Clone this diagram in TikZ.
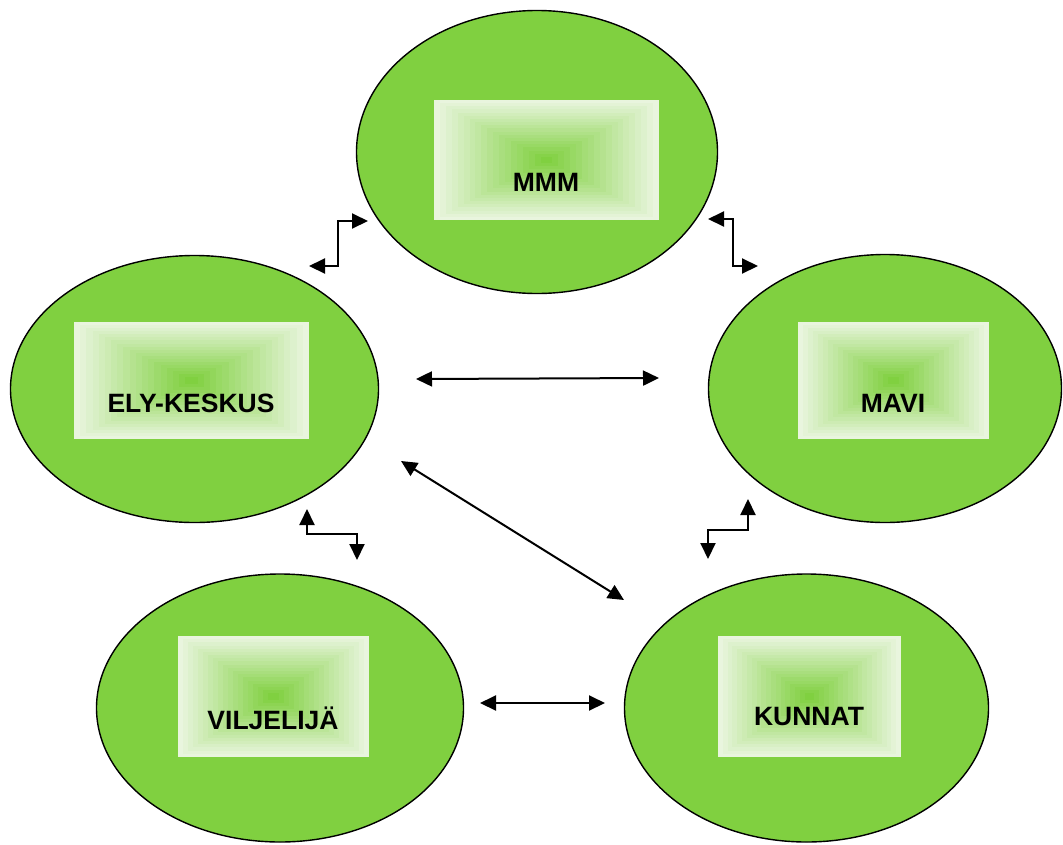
\documentclass[tikz,border=0pt]{standalone}
\usepackage{fontspec}
\setmainfont{Liberation Sans}
\usetikzlibrary{shapes.geometric,arrows.meta}
\definecolor{leaf}{RGB}{128,208,64}
\definecolor{pale}{RGB}{233,245,222}
\tikzset{
  blob/.style={ellipse, draw=black, line width=1.4pt, fill=leaf, inner sep=0pt},
  link/.style={line width=2pt, {Triangle[length=16pt,width=15pt]}-{Triangle[length=16pt,width=15pt]}},
  lbl/.style={font=\bfseries\fontsize{26.5}{31}\selectfont, inner sep=0pt, text=black},
  band/.style={draw=none, inner sep=0pt, outer sep=0pt}
}
\newcommand\gradbox[5]{%
  \node[band, fill=pale, minimum width=#4pt, minimum height=#5pt] (#1) at (#2,#3) {};
  \foreach \i in {1,...,18}{%
    \pgfmathsetmacro\f{1-\i/19}%
    \pgfmathtruncatemacro\p{\i/18*100}%
    \node[band, fill=leaf!\p!pale, minimum width={\f*#4pt}, minimum height={\f*#5pt}] at (#2,#3) {};
  }%
}
\begin{document}
\begin{tikzpicture}[x=1pt,y=-1pt]
\useasboundingbox (0,0) rectangle (1063,844);
% ellipses
\node[blob, minimum width=361pt, minimum height=283pt] (mmmE) at (537,152) {};
\node[blob, minimum width=368pt, minimum height=267pt] (elyE) at (194.5,389) {};
\node[blob, minimum width=353pt, minimum height=268pt] (maviE) at (885,388.5) {};
\node[blob, minimum width=367pt, minimum height=268pt] (viljE) at (280,708) {};
\node[blob, minimum width=364pt, minimum height=268pt] (kunE) at (806.5,708) {};
% gradient boxes
\gradbox{mmmB}{546.5}{160}{225}{120}
\gradbox{elyB}{191.5}{380.5}{235}{117}
\gradbox{maviB}{893.5}{380.5}{191}{117}
\gradbox{viljB}{273.5}{696.5}{191}{121}
\gradbox{kunB}{809.5}{696.5}{183}{121}
% labels
\node[lbl] (mmmT) at (546,182) {MMM};
\node[lbl] (elyT) at (191,403) {ELY-KESKUS};
\node[lbl] (maviT) at (893,403) {MAVI};
\node[lbl] (viljT) at (273,718) {VILJELIJÄ};
\node[lbl] (kunT) at (809,717) {KUNNAT};
% connector end points
\coordinate (a1) at (309,266);
\coordinate (a2) at (368,221);
\coordinate (b1) at (708,219);
\coordinate (b2) at (758,266);
\coordinate (c1) at (307,509);
\coordinate (c2) at (357,560);
\coordinate (d1) at (748,499);
\coordinate (d2) at (708,559);
\coordinate (e1) at (416,379);
\coordinate (e2) at (659,378);
\coordinate (f1) at (401,461);
\coordinate (f2) at (624,600);
\coordinate (g1) at (480,703);
\coordinate (g2) at (605,703);
% connectors
\draw[link] (a1) -- ++(29,0) |- (a2);
\draw[link] (b1) -- ++(25,0) |- (b2);
\draw[link] (c1) -- ++(0,25) -| (c2);
\draw[link] (d1) -- ++(0,31) -| (d2);
\draw[link] (e1) -- (e2);
\draw[link] (f1) -- (f2);
\draw[link] (g1) -- (g2);
\end{tikzpicture}
\end{document}
